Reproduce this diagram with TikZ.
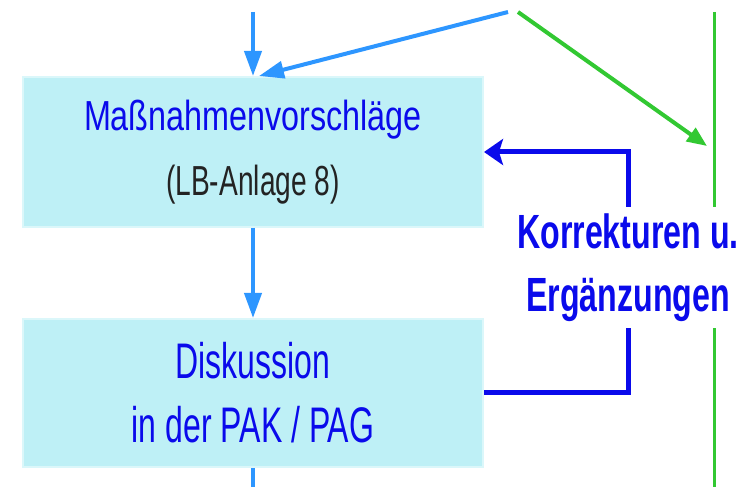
\documentclass[tikz,border=0pt]{standalone}
\usepackage{fontspec}
\setmainfont{Liberation Sans}
\newfontfamily\schmalA[FakeStretch=0.77]{Liberation Sans}
\newfontfamily\schmalB[FakeStretch=0.67]{Liberation Sans}
\newfontfamily\schmalC[FakeStretch=0.64]{Liberation Sans}
\usetikzlibrary{arrows.meta}
\usetikzlibrary{positioning}
\definecolor{boxcyan}{RGB}{190,240,246}
\definecolor{pfeilblau}{RGB}{45,150,255}
\definecolor{textblau}{RGB}{10,10,235}
\definecolor{gruen}{RGB}{50,200,50}
\definecolor{dunkel}{RGB}{35,35,35}

\begin{document}
\begin{tikzpicture}
      [x=1pt,y=1pt,
      kasten/.style={shape=rectangle,fill=boxcyan,draw=boxcyan!55!white,line width=2pt,
        minimum width=460pt,inner sep=0pt,align=center,text=textblau},
      hellpfeil/.style={draw=pfeilblau,line width=4pt,-{Triangle[length=25pt,width=17pt]}},
      rueckpfeil/.style={draw=textblau,line width=5pt,-{Stealth[length=19pt,width=26pt,inset=4pt]}},
      gruenpfeil/.style={draw=gruen,line width=4pt,-{Triangle[length=20pt,width=16pt]}}]
\useasboundingbox (0,0) rectangle (746,487);

\node[kasten,minimum height=150pt,font=\fontsize{42}{65}\selectfont] (massnahmen) at (253,335)
   {{\schmalA Maßnahmenvorschläge}\\{\color{dunkel}\schmalB (LB-Anlage 8)}};
\node[kasten,minimum height=148pt,below=90pt of massnahmen,font=\schmalC\fontsize{50}{64}\selectfont] (diskussion)
   {Diskussion\\in der PAK / PAG};
\node[shape=rectangle,minimum width=240pt,minimum height=121pt,inner sep=0pt,align=center,
   text=textblau,font=\schmalB\bfseries\fontsize{48}{63}\selectfont] (korrektur) at (628,219.5)
   {Korrekturen u.\\Ergänzungen};

\coordinate (oben1) at (253,475);
\coordinate (oben2) at (508,475);
\coordinate (oben3) at (518,475);
\coordinate (gruenspitze) at (707,341);
\coordinate (gruenoben) at (714,475);
\coordinate (gruenunten) at (714,0);
\coordinate (unten) at (253,0);

% Hauptfluss
\draw[hellpfeil] (oben1) -- (massnahmen.north);
\draw[hellpfeil] (oben2) -- ([xshift=6pt]massnahmen.north);
\draw[hellpfeil] (massnahmen.south) -- (diskussion.north);
\draw[draw=pfeilblau,line width=4pt] (diskussion.south) -- (unten);

% Rueckkopplung
\draw[draw=textblau,line width=5pt] (diskussion.east) -| (korrektur.south);
\draw[rueckpfeil] (korrektur.north) |- (massnahmen.east);

% gruene Linien
\draw[gruenpfeil] (oben3) -- (gruenspitze);
\draw[draw=gruen,line width=3pt] (gruenoben) -- (gruenoben |- korrektur.north);
\draw[draw=gruen,line width=3pt] (gruenoben |- korrektur.south) -- (gruenunten);

\end{tikzpicture}
\end{document}
